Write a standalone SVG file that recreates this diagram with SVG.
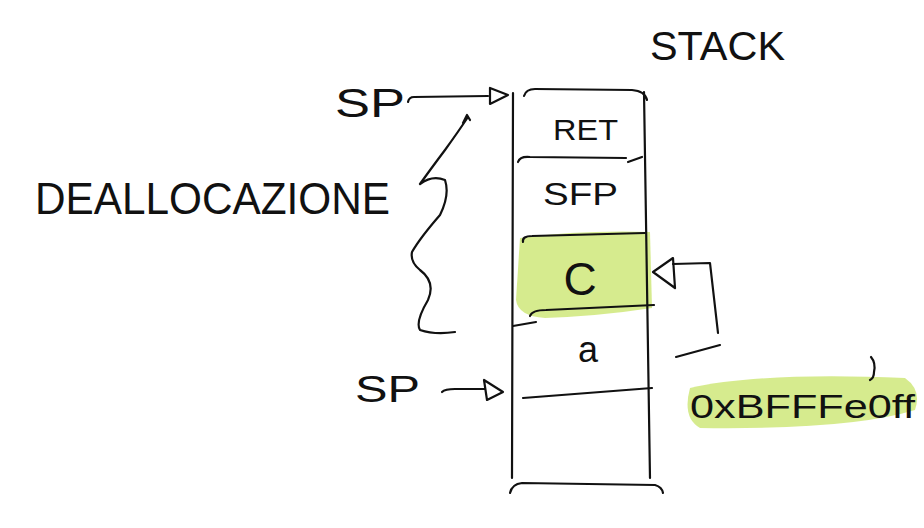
<svg xmlns="http://www.w3.org/2000/svg" width="924" height="528" viewBox="0 0 924 528">
<style>
.ink{fill:none;stroke:#111;stroke-width:2.2;stroke-linecap:round;stroke-linejoin:round}
.t{font-family:"Liberation Sans",Arial,sans-serif;fill:#111}
.hl{fill:#cfe87a;opacity:0.85}
</style>
<rect width="924" height="528" fill="#fff"/>
<g id="title">
<text class="t" x="650" y="60" font-size="40" textLength="135" lengthAdjust="spacingAndGlyphs">STACK</text>
</g>
<g id="stack">
<path class="hl" d="M520,238 Q580,230 650,232 L652,308 Q600,316 545,318 Q518,316 516,300 Z"/>
<path class="ink" d="M513,93 L512,478 M644,92 L650,478"/>
<path class="ink" d="M524,96 Q526,89 535,89 L632,90 Q645,91 647,100"/>
<path class="ink" d="M510,493 Q512,484 522,483 L655,485 Q662,487 663,493"/>
<path class="ink" d="M518,162 Q520,156 530,157 L626,158 M628,162 L642,157"/>
<path class="ink" d="M523,242 Q522,236 532,236 L645,233"/>
<path class="ink" d="M530,316 Q532,310 546,310 L654,305 M513,326 L536,322"/>
<path class="ink" d="M523,398 L652,388"/>
</g>
<g id="ret"><text class="t" x="553" y="140" font-size="30" textLength="65" lengthAdjust="spacingAndGlyphs">RET</text></g>
<g id="sfp"><text class="t" x="543" y="205" font-size="32" textLength="75" lengthAdjust="spacingAndGlyphs">SFP</text></g>
<g id="c"><text class="t" x="580" y="295" font-size="46" text-anchor="middle">C</text></g>
<g id="a"><text class="t" x="588" y="362" font-size="36" text-anchor="middle">a</text></g>
<g id="sp-top"><text class="t" x="335" y="117" font-size="40" textLength="70" lengthAdjust="spacingAndGlyphs">SP</text></g>
<g id="sp-bottom"><text class="t" x="355" y="402" font-size="36" textLength="65" lengthAdjust="spacingAndGlyphs">SP</text></g>
<g id="dealloc"><text class="t" x="35" y="214" font-size="44" textLength="355" lengthAdjust="spacingAndGlyphs">DEALLOCAZIONE</text></g>
<g id="addr">
<path class="hl" d="M690,388 Q760,372 905,378 Q922,390 915,410 Q850,430 700,428 Q682,418 690,388 Z"/>
<text class="t" x="690" y="418" font-size="34" textLength="225" lengthAdjust="spacingAndGlyphs">0xBFFFe0ff</text>
<path class="ink" d="M871,357 Q876,363 874,372 Q874,378 870,380" stroke-width="1.6"/>
</g>
<g id="connectors">
<path class="ink" d="M408,102 Q409,97 414,97 L488,96"/>
<path class="ink" d="M490,88 L490,104 L508,95 Z"/>
<path class="ink" d="M442,392 Q445,389 455,389 L485,389"/>
<path class="ink" d="M484,380 L487,400 L503,392 Z"/>
<path class="ink" d="M468,117 Q458,132 445,150 Q430,170 420,184 Q432,175 445,180 Q450,195 440,215 Q420,238 412,252 Q410,262 420,270 Q436,282 428,300 Q415,322 420,330 Q435,335 455,332 M463,123 L467,115 L470,120"/>
<path class="ink" d="M673,258 L653,272 L675,288 Z"/>
<path class="ink" d="M673,264 L710,263 L718,333"/>
<path class="ink" d="M720,345 L676,357"/>
</g>
</svg>
